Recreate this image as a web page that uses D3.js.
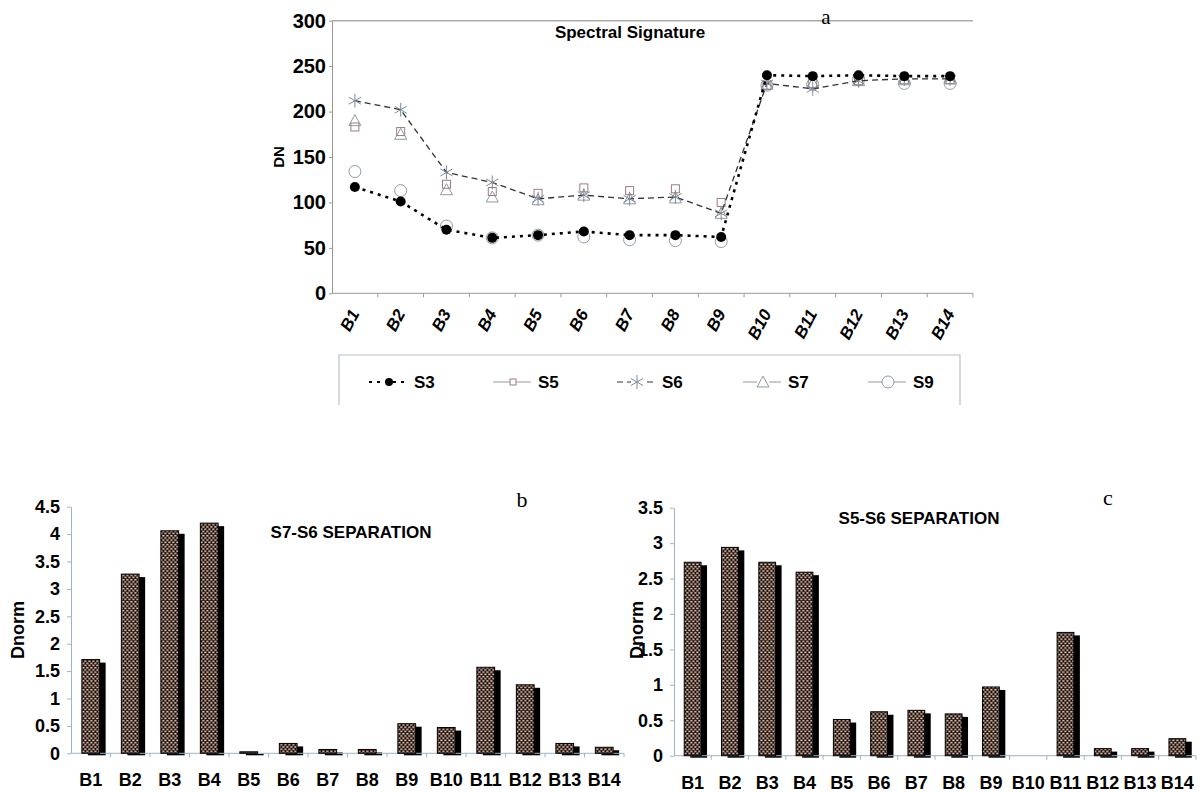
<!DOCTYPE html>
<html>
<head>
<meta charset="utf-8">
<script src="https://cdn.jsdelivr.net/npm/d3@7"></script>
<style>
  body { margin: 0; background: #fff; }
  svg text { font-family: "Liberation Sans", Arial, sans-serif; }
  .bold { font-weight: bold; }
  .serif { font-family: "Liberation Serif", "Times New Roman", serif !important; }
</style>
</head>
<body>
<div id="vis"></div>
<script>
// Spectral signature line chart (a) plus two separation bar charts (b, c)

/* *************************** Data ***************************** */
var bands = ['B1', 'B2', 'B3', 'B4', 'B5', 'B6', 'B7', 'B8', 'B9', 'B10', 'B11', 'B12', 'B13', 'B14'];

// DN per band for each sample
var s3 = [117, 101, 70, 61, 64, 68, 64, 64, 62, 240, 239, 240, 239, 239];
var s5 = [183, 178, 120, 112, 110, 116, 113, 115, 100, 229, 231, 234, 235, 235];
var s6 = [212, 202, 133, 122, 104, 108, 104, 106, 88, 231, 225, 234, 236, 236];
var s7 = [190, 175, 114, 106, 103, 108, 104, 105, 88, 230, 231, 234, 235, 236];
var s9 = [134, 113, 74, 61, 64, 62, 59, 58, 57, 229, 230, 235, 231, 231];

// Dnorm separations
var sepS7S6 = [1.71, 3.27, 4.06, 4.20, 0.01, 0.18, 0.07, 0.07, 0.54, 0.47, 1.57, 1.25, 0.18, 0.11];
var sepS5S6 = [2.73, 2.94, 2.73, 2.59, 0.51, 0.62, 0.64, 0.59, 0.97, 0, 1.74, 0.10, 0.10, 0.24];

var dnTicks = [0, 50, 100, 150, 200, 250, 300];
var bTicks = [0, 0.5, 1, 1.5, 2, 2.5, 3, 3.5, 4, 4.5];
var cTicks = [0, 0.5, 1, 1.5, 2, 2.5, 3, 3.5];

/* *************************** Setup ***************************** */
var width = 1200;
var height = 792;

var svg = d3.select('#vis')
    .append('svg')
    .attr('width', width)
    .attr('height', height);

// dotted pattern for the bars
var defs = svg.append('defs');
var pat = defs.append('pattern')
    .attr('id', 'dots')
    .attr('patternUnits', 'userSpaceOnUse')
    .attr('width', 4)
    .attr('height', 4.4);
pat.append('rect').attr('width', 4).attr('height', 4.4).attr('fill', '#111');
pat.append('rect').attr('x', 0.3).attr('y', 0.4).attr('width', 2.2).attr('height', 1.5).attr('fill', '#f0bea4');
pat.append('rect').attr('x', 2.3).attr('y', 2.6).attr('width', 2.2).attr('height', 1.5).attr('fill', '#f0bea4');
pat.append('rect').attr('x', -1.7).attr('y', 2.6).attr('width', 2.2).attr('height', 1.5).attr('fill', '#f0bea4');

/* *************************** Chart a ***************************** */
var ax = { left: 332, right: 973, top: 20.7, bottom: 293.3 };

var xA = d3.scaleBand().domain(bands).range([ax.left, ax.right]).padding(0);
var yA = d3.scaleLinear().domain([0, 300]).range([ax.bottom, ax.top]);

var gA = svg.append('g');

// top frame line
gA.append('line')
    .attr('x1', ax.left).attr('x2', ax.right)
    .attr('y1', ax.top).attr('y2', ax.top)
    .attr('stroke', '#aaa').attr('stroke-width', 1.5);

var yAxisA = gA.append('g')
    .attr('transform', 'translate(' + ax.left + ',0)')
    .call(d3.axisLeft(yA).tickValues(dnTicks).tickSize(3).tickPadding(3).tickSizeOuter(0));
yAxisA.selectAll('text').attr('class', 'bold').style('font-size', '20px').attr('fill', '#000');
yAxisA.select('.domain').attr('stroke', '#999');
yAxisA.selectAll('.tick line').attr('stroke', '#999');

// x axis line with ticks between the bands
var xAxisA = gA.append('g')
    .attr('transform', 'translate(0,' + ax.bottom + ')');
xAxisA.append('line')
    .attr('x1', ax.left).attr('x2', ax.right)
    .attr('stroke', '#999');
xAxisA.selectAll('line.tk')
    .data(bands.slice(1).concat(['end']))
    .enter().append('line')
    .attr('class', 'tk')
    .attr('x1', function(d) { return d === 'end' ? ax.right : xA(d); })
    .attr('x2', function(d) { return d === 'end' ? ax.right : xA(d); })
    .attr('y1', 0).attr('y2', 4)
    .attr('stroke', '#999');

gA.selectAll('text.xl')
    .data(bands)
    .enter().append('text')
    .attr('class', 'xl bold')
    .attr('text-anchor', 'end')
    .attr('transform', function(d) {
        return 'translate(' + (xA(d) + xA.bandwidth() / 2 + 5) + ',' + (ax.bottom + 20) + ') rotate(-62)';
    })
    .style('font-size', '17px')
    .style('font-style', 'italic')
    .text(function(d) { return d; });

gA.append('text')
    .attr('class', 'bold')
    .attr('transform', 'translate(284,' + ((ax.top + ax.bottom) / 2) + ') rotate(-90)')
    .attr('text-anchor', 'middle')
    .style('font-size', '15px')
    .text('DN');

gA.append('text')
    .attr('class', 'bold')
    .attr('x', 630).attr('y', 38)
    .attr('text-anchor', 'middle')
    .style('font-size', '17px')
    .text('Spectral Signature');

gA.append('text')
    .attr('class', 'serif')
    .attr('x', 826).attr('y', 24)
    .attr('text-anchor', 'middle')
    .style('font-size', '21px')
    .text('a');

var cx = function(i) { return xA(bands[i]) + xA.bandwidth() / 2; };

var lineA = d3.line()
    .x(function(d, i) { return cx(i); })
    .y(function(d) { return yA(d); });

// marker drawers
var drawMarker = function(g, type, x, y, color) {
    if (type === 'dot') {
        g.append('circle').attr('cx', x).attr('cy', y).attr('r', 5).attr('fill', '#000');
    } else if (type === 'square') {
        g.append('rect').attr('x', x - 4).attr('y', y - 4).attr('width', 8).attr('height', 8)
            .attr('fill', 'none').attr('stroke', color).attr('stroke-width', 1);
    } else if (type === 'star') {
        var r = 7;
        var p = '';
        [0, 60, 120].forEach(function(a) {
            var rad = (a + 90) * Math.PI / 180;
            p += 'M' + (x - r * Math.cos(rad)) + ',' + (y - r * Math.sin(rad)) +
                 'L' + (x + r * Math.cos(rad)) + ',' + (y + r * Math.sin(rad));
        });
        g.append('path').attr('d', p).attr('stroke', color).attr('stroke-width', 1).attr('fill', 'none');
    } else if (type === 'tri') {
        g.append('path')
            .attr('d', 'M' + x + ',' + (y - 6) + 'L' + (x + 6) + ',' + (y + 5) + 'L' + (x - 6) + ',' + (y + 5) + 'Z')
            .attr('fill', 'none').attr('stroke', color).attr('stroke-width', 1);
    } else if (type === 'circle') {
        g.append('circle').attr('cx', x).attr('cy', y).attr('r', 6)
            .attr('fill', 'none').attr('stroke', color).attr('stroke-width', 1);
    }
};

var series = [
    { name: 'S3', values: s3, marker: 'dot', color: '#000', line: true, dash: '3,5', lw: 2.6 },
    { name: 'S5', values: s5, marker: 'square', color: '#a07c7c', line: false },
    { name: 'S6', values: s6, marker: 'star', color: '#7c8a98', line: true, dash: '6,4', lw: 1.3, lineColor: '#333' },
    { name: 'S7', values: s7, marker: 'tri', color: '#8c9aa6', line: false },
    { name: 'S9', values: s9, marker: 'circle', color: '#8c9cab', line: false }
];

var drawOrder = [4, 3, 1, 2, 0];
drawOrder.forEach(function(k) {
    var s = series[k];
    var g = gA.append('g');
    if (s.line) {
        g.append('path')
            .datum(s.values)
            .attr('d', lineA)
            .attr('fill', 'none')
            .attr('stroke', s.lineColor || s.color)
            .attr('stroke-width', s.lw)
            .attr('stroke-dasharray', s.dash);
    }
    s.values.forEach(function(v, i) {
        drawMarker(g, s.marker, cx(i), yA(v), s.color);
    });
});

// legend (bottom border cut off, as in the figure)
var leg = svg.append('g');
leg.append('path')
    .attr('d', 'M339,405 L339,355 L960,355 L960,405')
    .attr('fill', 'none').attr('stroke', '#b8c0c8').attr('stroke-width', 1.2);

var legX = [389, 513, 637, 763, 888];
series.forEach(function(s, i) {
    var x = legX[i];
    var y = 382;
    leg.append('line')
        .attr('x1', x - 20).attr('x2', x + 18).attr('y1', y).attr('y2', y)
        .attr('stroke', s.line ? (s.lineColor || s.color) : '#999')
        .attr('stroke-width', s.line ? (s.lw > 2 ? 2 : 1) : 1)
        .attr('stroke-dasharray', s.line ? s.dash : null);
    if (s.marker === 'dot') {
        leg.append('circle').attr('cx', x).attr('cy', y).attr('r', 4).attr('fill', '#000');
    } else if (s.marker === 'square') {
        leg.append('rect').attr('x', x - 3).attr('y', y - 3).attr('width', 6).attr('height', 6)
            .attr('fill', '#fff').attr('stroke', s.color);
    } else {
        var mg = leg.append('g');
        mg.append('rect').attr('x', x - 6).attr('y', y - 6).attr('width', 12).attr('height', 12).attr('fill', '#fff');
        drawMarker(mg, s.marker, x, y, s.color);
    }
    leg.append('text')
        .attr('class', 'bold')
        .attr('x', x + 25).attr('y', y + 6)
        .style('font-size', '17px')
        .text(s.name);
});

/* *************************** Bar charts ***************************** */
var drawBars = function(cfg) {
    var g = svg.append('g');
    var x = d3.scaleBand().domain(bands).range([cfg.left, cfg.right]).padding(0);
    var y = d3.scaleLinear().domain([0, cfg.max]).range([cfg.bottom, cfg.top]);
    var axisColor = '#9db3c4';

    var yAx = g.append('g')
        .attr('transform', 'translate(' + cfg.left + ',0)')
        .call(d3.axisLeft(y).tickValues(cfg.ticks).tickFormat(d3.format('')).tickSize(4).tickPadding(7).tickSizeOuter(0));
    yAx.select('.domain').attr('stroke', axisColor);
    yAx.selectAll('.tick line').attr('stroke', axisColor);
    yAx.selectAll('text').attr('class', 'bold').style('font-size', '18px').attr('fill', '#000');

    var bw = x.bandwidth() * 0.45;
    var dx = 6, dy = 3;
    var barX = function(i) { return x(bands[i]) + (x.bandwidth() - bw) / 2; };

    // black side / shadow behind each bar
    g.selectAll('rect.side')
        .data(cfg.values)
        .enter().append('rect')
        .attr('class', 'side')
        .attr('x', function(d, i) { return barX(i) + dx; })
        .attr('y', function(d) { return Math.min(y(d) + dy, y(0) + 0.5); })
        .attr('width', bw)
        .attr('height', function(d) { return Math.max(y(0) + 2 - (y(d) + dy), 1.5); })
        .attr('fill', '#000')
        .style('display', function(d) { return d > 0 ? null : 'none'; });

    // x axis line + ticks at band boundaries
    g.append('line')
        .attr('x1', cfg.left).attr('x2', cfg.right)
        .attr('y1', cfg.bottom).attr('y2', cfg.bottom)
        .attr('stroke', axisColor);
    g.selectAll('line.tk')
        .data(bands.slice(1).concat(['end']))
        .enter().append('line')
        .attr('class', 'tk')
        .attr('x1', function(d) { return d === 'end' ? cfg.right : x(d); })
        .attr('x2', function(d) { return d === 'end' ? cfg.right : x(d); })
        .attr('y1', cfg.bottom).attr('y2', cfg.bottom + 4)
        .attr('stroke', axisColor);

    // patterned front faces
    g.selectAll('rect.front')
        .data(cfg.values)
        .enter().append('rect')
        .attr('class', 'front')
        .attr('x', function(d, i) { return barX(i); })
        .attr('y', function(d) { return cfg.bottom - Math.max(cfg.bottom - y(d), 1.5); })
        .attr('width', bw)
        .attr('height', function(d) { return Math.max(cfg.bottom - y(d), 1.5); })
        .attr('fill', 'url(#dots)')
        .attr('stroke', '#000')
        .attr('stroke-width', 1)
        .style('display', function(d) { return d > 0 ? null : 'none'; });

    g.selectAll('text.xl')
        .data(bands)
        .enter().append('text')
        .attr('class', 'xl bold')
        .attr('x', function(d) { return x(d) + x.bandwidth() / 2; })
        .attr('y', cfg.bottom + 33)
        .attr('text-anchor', 'middle')
        .style('font-size', '18px')
        .text(function(d) { return d; });

    g.append('text')
        .attr('class', 'bold')
        .attr('transform', 'translate(' + cfg.yLabelX + ',' + cfg.yLabelY + ') rotate(-90)')
        .attr('text-anchor', 'middle')
        .style('font-size', '18px')
        .text('Dnorm');

    g.append('text')
        .attr('class', 'bold')
        .attr('x', cfg.titleX).attr('y', cfg.titleY)
        .attr('text-anchor', 'middle')
        .style('font-size', '17px')
        .text(cfg.title);

    g.append('text')
        .attr('class', 'serif')
        .attr('x', cfg.letterX).attr('y', cfg.letterY)
        .attr('text-anchor', 'middle')
        .style('font-size', '22px')
        .text(cfg.letter);
};

drawBars({
    values: sepS7S6, ticks: bTicks, max: 4.5,
    left: 71, right: 624, top: 506.7, bottom: 753.3,
    yLabelX: 24, yLabelY: 630,
    title: 'S7-S6 SEPARATION', titleX: 351, titleY: 538,
    letter: 'b', letterX: 522, letterY: 507
});

drawBars({
    values: sepS5S6, ticks: cTicks, max: 3.5,
    left: 674, right: 1196, top: 507.7, bottom: 755.7,
    yLabelX: 643, yLabelY: 630,
    title: 'S5-S6 SEPARATION', titleX: 919, titleY: 524,
    letter: 'c', letterX: 1108, letterY: 505
});
</script>
</body>
</html>
